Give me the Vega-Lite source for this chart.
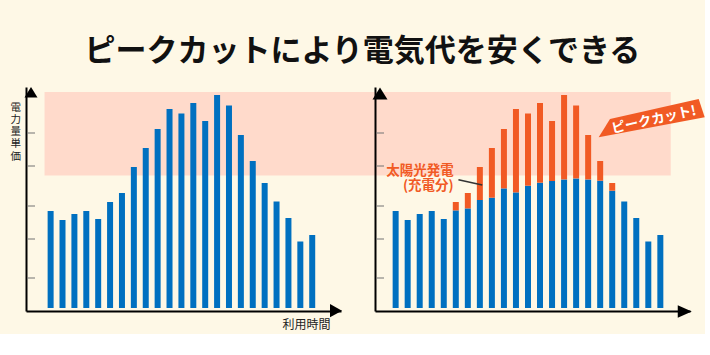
{
  "$schema": "https://vega.github.io/schema/vega-lite/v6.json",
  "background": "#fef8e6",
  "padding": {"left": 10, "top": 35, "right": 0, "bottom": 4},
  "title": {
    "text": "ピークカットにより電気代を安くできる",
    "font": "Noto Sans CJK JP",
    "fontSize": 31,
    "fontWeight": "bold",
    "color": "#111111",
    "anchor": "middle",
    "frame": "bounds",
    "baseline": "alphabetic",
    "offset": -5,
    "dx": 5
  },
  "datasets": {
    "hours": [
      {"h": 1, "total": 97, "blue": 97},
      {"h": 2, "total": 88, "blue": 88},
      {"h": 3, "total": 94, "blue": 94},
      {"h": 4, "total": 97, "blue": 97},
      {"h": 5, "total": 89, "blue": 89},
      {"h": 6, "total": 106, "blue": 97.6},
      {"h": 7, "total": 115, "blue": 99.6},
      {"h": 8, "total": 141, "blue": 108},
      {"h": 9, "total": 160, "blue": 110.3},
      {"h": 10, "total": 179, "blue": 119.6},
      {"h": 11, "total": 199, "blue": 115.6},
      {"h": 12, "total": 194.5, "blue": 122.3},
      {"h": 13, "total": 205, "blue": 125.3},
      {"h": 14, "total": 187, "blue": 127},
      {"h": 15, "total": 213, "blue": 128.6},
      {"h": 16, "total": 202.5, "blue": 129.6},
      {"h": 17, "total": 173, "blue": 128.6},
      {"h": 18, "total": 147, "blue": 127.3},
      {"h": 19, "total": 125, "blue": 117.3},
      {"h": 20, "total": 106.5, "blue": 106.5},
      {"h": 21, "total": 90, "blue": 90},
      {"h": 22, "total": 66.5, "blue": 66.5},
      {"h": 23, "total": 73, "blue": 73}
    ],
    "ticks": [{"t": 30}, {"t": 69}, {"t": 102}, {"t": 142}, {"t": 175}],
    "one": [{"note": "annotation"}]
  },
  "spacing": 34,
  "bounds": "flush",
  "hconcat": [
    {
      "width": 315,
      "height": 224,
      "layer": [
        {
          "data": {"name": "one"},
          "mark": {"type": "rect", "color": "#ffdacb"},
          "encoding": {
            "x": {"datum": 0.49, "type": "quantitative", "scale": {"domain": [-0.65, 25.0], "nice": false, "zero": false},
                  "axis": {"title": "利用時間", "titleX": 304, "titleY": 17, "titleAlign": "right", "titleBaseline": "alphabetic", "titleFontSize": 12, "titleFontWeight": "normal", "titleColor": "#222222"}},
            "x2": {"datum": 53.15},
            "y": {"datum": 132.5, "type": "quantitative", "scale": {"domain": [-3, 221], "nice": false, "zero": false},
                  "axis": {"title": ["電", "力", "量", "単", "価"], "titleAngle": 0, "titleX": -16, "titleY": 15, "titleAlign": "left", "titleBaseline": "top", "titleFontSize": 10.5, "titleLineHeight": 12.3, "titleFontWeight": "normal", "titleColor": "#222222"}},
            "y2": {"datum": 216}
          }
        },
        {
          "data": {"name": "hours"},
          "mark": {"type": "bar", "size": 6, "color": "#0070c0"},
          "encoding": {
            "x": {"field": "h", "type": "quantitative", "scale": {"domain": [-0.65, 25.0], "nice": false, "zero": false},
                  "axis": {"title": "利用時間", "titleX": 304, "titleY": 17, "titleAlign": "right", "titleBaseline": "alphabetic", "titleFontSize": 12, "titleFontWeight": "normal", "titleColor": "#222222"}},
            "y": {"field": "total", "type": "quantitative", "scale": {"domain": [-3, 221], "nice": false, "zero": false},
                  "axis": {"title": ["電", "力", "量", "単", "価"], "titleAngle": 0, "titleX": -16, "titleY": 15, "titleAlign": "left", "titleBaseline": "top", "titleFontSize": 10.5, "titleLineHeight": 12.3, "titleFontWeight": "normal", "titleColor": "#222222"}}
          }
        },
        {
          "data": {"name": "ticks"},
          "mark": {"type": "tick", "orient": "horizontal", "size": 8, "thickness": 1.5, "color": "#777777"},
          "encoding": {
            "x": {"datum": -0.65, "type": "quantitative", "scale": {"domain": [-0.65, 25.0], "nice": false, "zero": false},
                  "axis": {"title": "利用時間", "titleX": 304, "titleY": 17, "titleAlign": "right", "titleBaseline": "alphabetic", "titleFontSize": 12, "titleFontWeight": "normal", "titleColor": "#222222"}},
            "y": {"field": "t", "type": "quantitative", "scale": {"domain": [-3, 221], "nice": false, "zero": false},
                  "axis": {"title": ["電", "力", "量", "単", "価"], "titleAngle": 0, "titleX": -16, "titleY": 15, "titleAlign": "left", "titleBaseline": "top", "titleFontSize": 10.5, "titleLineHeight": 12.3, "titleFontWeight": "normal", "titleColor": "#222222"}}
          }
        },
        {
          "data": {"name": "one"},
          "mark": {"type": "point", "shape": "M0,-0.8L1,0.8L-1,0.8Z", "size": 169, "filled": true, "opacity": 1, "color": "#000000", "strokeWidth": 0},
          "encoding": {
            "x": {"datum": -0.65, "type": "quantitative", "scale": {"domain": [-0.65, 25.0], "nice": false, "zero": false},
                  "axis": {"title": "利用時間", "titleX": 304, "titleY": 17, "titleAlign": "right", "titleBaseline": "alphabetic", "titleFontSize": 12, "titleFontWeight": "normal", "titleColor": "#222222"}},
            "y": {"datum": 215.8, "type": "quantitative", "scale": {"domain": [-3, 221], "nice": false, "zero": false},
                  "axis": {"title": ["電", "力", "量", "単", "価"], "titleAngle": 0, "titleX": -16, "titleY": 15, "titleAlign": "left", "titleBaseline": "top", "titleFontSize": 10.5, "titleLineHeight": 12.3, "titleFontWeight": "normal", "titleColor": "#222222"}}
          }
        },
        {
          "data": {"name": "one"},
          "mark": {"type": "point", "shape": "M0.9,0L-0.9,-1L-0.9,1Z", "size": 177, "filled": true, "opacity": 1, "color": "#000000", "strokeWidth": 0},
          "encoding": {
            "x": {"datum": 25.0, "type": "quantitative", "scale": {"domain": [-0.65, 25.0], "nice": false, "zero": false},
                  "axis": {"title": "利用時間", "titleX": 304, "titleY": 17, "titleAlign": "right", "titleBaseline": "alphabetic", "titleFontSize": 12, "titleFontWeight": "normal", "titleColor": "#222222"}},
            "y": {"datum": -2.7, "type": "quantitative", "scale": {"domain": [-3, 221], "nice": false, "zero": false},
                  "axis": {"title": ["電", "力", "量", "単", "価"], "titleAngle": 0, "titleX": -16, "titleY": 15, "titleAlign": "left", "titleBaseline": "top", "titleFontSize": 10.5, "titleLineHeight": 12.3, "titleFontWeight": "normal", "titleColor": "#222222"}}
          }
        }
      ]
    },
    {
      "width": 315,
      "height": 224,
      "layer": [
        {
          "data": {"name": "hours"},
          "mark": {"type": "bar", "size": 6, "color": "#0070c0"},
          "encoding": {
            "x": {"field": "h", "type": "quantitative", "scale": {"domain": [-0.3, 25.05], "nice": false, "zero": false}, "axis": {"title": null}},
            "y": {"field": "blue", "type": "quantitative", "scale": {"domain": [-3, 221], "nice": false, "zero": false}, "axis": {"title": null}}
          }
        },
        {
          "data": {"name": "hours"},
          "mark": {"type": "bar", "size": 6, "color": "#f15a24"},
          "encoding": {
            "x": {"field": "h", "type": "quantitative", "scale": {"domain": [-0.3, 25.05], "nice": false, "zero": false}, "axis": {"title": null}},
            "y": {"field": "total", "type": "quantitative", "scale": {"domain": [-3, 221], "nice": false, "zero": false}, "axis": {"title": null}},
            "y2": {"field": "blue"}
          }
        },
        {
          "data": {"name": "ticks"},
          "mark": {"type": "tick", "orient": "horizontal", "size": 8, "thickness": 1.5, "color": "#777777"},
          "encoding": {
            "x": {"datum": -0.3, "type": "quantitative", "scale": {"domain": [-0.3, 25.05], "nice": false, "zero": false}, "axis": {"title": null}},
            "y": {"field": "t", "type": "quantitative", "scale": {"domain": [-3, 221], "nice": false, "zero": false}, "axis": {"title": null}}
          }
        },
        {
          "data": {"name": "one"},
          "mark": {"type": "point", "shape": "M0,-0.8L1,0.8L-1,0.8Z", "size": 225, "filled": true, "opacity": 1, "color": "#000000", "strokeWidth": 0},
          "encoding": {
            "x": {"datum": -0.3, "type": "quantitative", "scale": {"domain": [-0.3, 25.05], "nice": false, "zero": false}, "axis": {"title": null}},
            "y": {"datum": 214.5, "type": "quantitative", "scale": {"domain": [-3, 221], "nice": false, "zero": false}, "axis": {"title": null}}
          }
        },
        {
          "data": {"name": "one"},
          "mark": {"type": "point", "shape": "M1,0L-1,-0.9L-1,0.9Z", "size": 196, "filled": true, "opacity": 1, "color": "#000000", "strokeWidth": 0},
          "encoding": {
            "x": {"datum": 25.03, "type": "quantitative", "scale": {"domain": [-0.3, 25.05], "nice": false, "zero": false}, "axis": {"title": null}},
            "y": {"datum": -3.5, "type": "quantitative", "scale": {"domain": [-3, 221], "nice": false, "zero": false}, "axis": {"title": null}}
          }
        },
        {
          "data": {"name": "one"},
          "mark": {"type": "text", "text": ["太陽光発電", "(充電分)"], "align": "right", "baseline": "alphabetic", "fontSize": 13.5, "fontWeight": "bold", "lineHeight": 15, "color": "#f15a24"},
          "encoding": {
            "x": {"datum": 5.82, "type": "quantitative", "scale": {"domain": [-0.3, 25.05], "nice": false, "zero": false}, "axis": {"title": null}},
            "y": {"datum": 133, "type": "quantitative", "scale": {"domain": [-3, 221], "nice": false, "zero": false}, "axis": {"title": null}}
          }
        },
        {
          "data": {"name": "one"},
          "mark": {"type": "rule", "color": "#333333", "strokeWidth": 1.5},
          "encoding": {
            "x": {"datum": 6.22, "type": "quantitative", "scale": {"domain": [-0.3, 25.05], "nice": false, "zero": false}, "axis": {"title": null}},
            "y": {"datum": 128.3, "type": "quantitative", "scale": {"domain": [-3, 221], "nice": false, "zero": false}, "axis": {"title": null}},
            "x2": {"datum": 8.2},
            "y2": {"datum": 123}
          }
        },
        {
          "data": {"name": "one"},
          "mark": {"type": "point", "shape": "M-0.86,0.02L0.914,-0.38L1.034,-0.014L-1.086,0.386Z", "size": 10000, "filled": true, "opacity": 1, "color": "#f15a24", "strokeWidth": 0},
          "encoding": {
            "x": {"datum": 22.39, "type": "quantitative", "scale": {"domain": [-0.3, 25.05], "nice": false, "zero": false}, "axis": {"title": null}},
            "y": {"datum": 190, "type": "quantitative", "scale": {"domain": [-3, 221], "nice": false, "zero": false}, "axis": {"title": null}}
          }
        },
        {
          "data": {"name": "one"},
          "mark": {"type": "text", "text": "ピークカット!", "angle": -12.5, "align": "center", "baseline": "middle", "fontSize": 13.5, "fontWeight": "bold", "color": "#ffffff"},
          "encoding": {
            "x": {"datum": 22.47, "type": "quantitative", "scale": {"domain": [-0.3, 25.05], "nice": false, "zero": false}, "axis": {"title": null}},
            "y": {"datum": 188, "type": "quantitative", "scale": {"domain": [-3, 221], "nice": false, "zero": false}, "axis": {"title": null}}
          }
        }
      ]
    }
  ],
  "config": {
    "font": "Noto Sans CJK JP",
    "view": {"stroke": null},
    "axis": {"grid": false, "ticks": false, "labels": false, "domain": true, "domainColor": "#000000", "domainWidth": 2}
  }
}
